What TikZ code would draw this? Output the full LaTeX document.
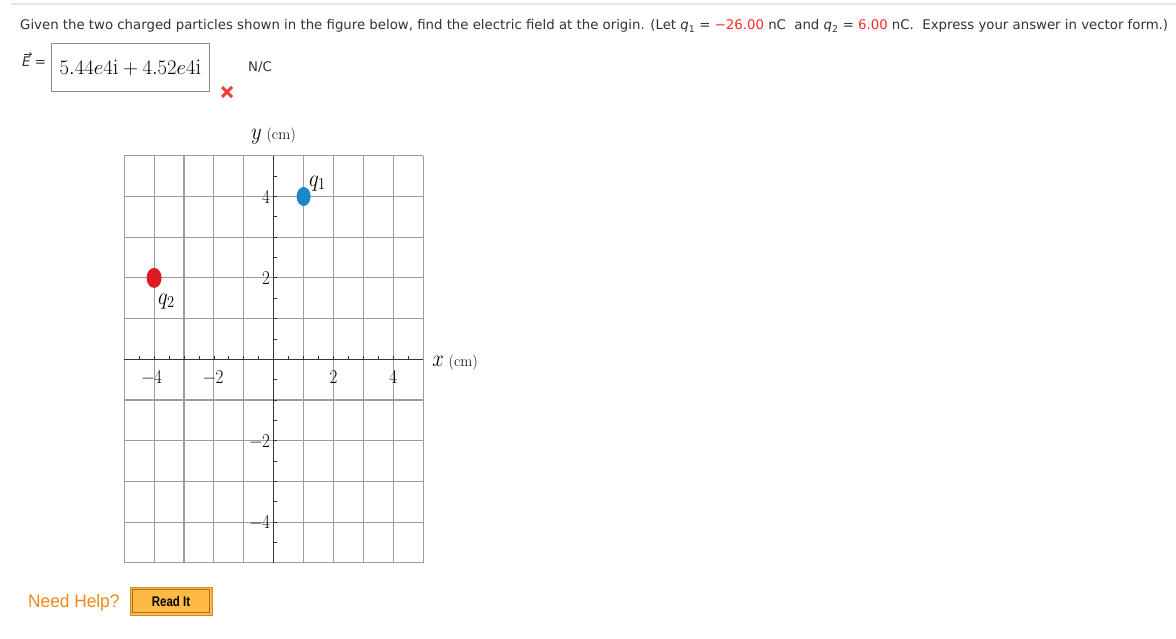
\documentclass[tikz,border=0pt]{standalone}
\usepackage{fontspec}
\usetikzlibrary{shapes.geometric,arrows.meta}
\newfontfamily\uisans{DejaVu Sans}
\newfontfamily\helpfont{Liberation Sans}
\definecolor{txt}{HTML}{333333}
\definecolor{redval}{HTML}{FF2A2A}
\definecolor{gridc}{HTML}{9C9C9C}
\definecolor{axisc}{HTML}{333333}
\definecolor{qonec}{HTML}{1A88C9}
\definecolor{qtwoc}{HTML}{DD1B24}
\definecolor{helpc}{HTML}{EE8A1A}
\definecolor{btnfill}{HTML}{FFBA45}
\definecolor{btnline}{HTML}{D68A2E}
\definecolor{xmarkc}{HTML}{E9423F}
\definecolor{boxline}{HTML}{8A8A8A}
\newcommand{\tallify}[1]{\scalebox{1}[1.15]{#1}}
\tikzset{
  uitext/.style={font=\uisans\fontsize{13.3}{15}\selectfont, text=txt, inner sep=0pt},
  gridline/.style={draw=gridc, line width=1.1pt},
  axisline/.style={draw=axisc, line width=1.4pt},
  tickline/.style={draw=axisc, line width=0.8pt},
  ticklabel/.style={font=\fontsize{17}{19}\selectfont, text=black, inner sep=0pt},
  charge/.style={ellipse, inner sep=0pt, minimum width=14pt, minimum height=19pt},
  chargelabel/.style={font=\fontsize{20}{22}\selectfont, inner sep=0pt, anchor=base west},
  axislabel/.style={font=\fontsize{15.5}{18}\selectfont, inner sep=0pt, anchor=base west},
}
\begin{document}
\begin{tikzpicture}[x=1pt,y=-1pt]
\useasboundingbox (0,0) rectangle (1176,639);
\fill[white] (0,0) rectangle (1176,639);
\draw[line width=2pt, color=black!10] (11,4) -- (1176,4);
\node[uitext, anchor=base west] (question) at (20,30) {Given the two charged particles shown in the figure below, find the electric field at the origin. (Let \textit{q}\textsubscript{1} = \textcolor{redval}{−26.00} nC\ \ and \textit{q}\textsubscript{2} = \textcolor{redval}{6.00} nC.\ \ Express your answer in vector form.)};
% answer line
\node[uitext, anchor=base west] (evec) at (22,67) {\textit{E} =};
\draw[txt, line width=0.7pt, -{Straight Barb[length=2pt,width=3.5pt]}] ([shift={(2,-3)}]evec.north west) -- ([shift={(10,-3)}]evec.north west);
\node[draw=boxline, line width=1pt, minimum width=158pt, minimum height=48pt, inner sep=0pt] (answer) at (130,68) {};
\node[font=\fontsize{22.4}{24}\selectfont, inner sep=0pt, anchor=base] (answertext) at (130.5,74.5) {$5.44e4\mathrm{i} + 4.52e4\mathrm{i}$};
\node[uitext, anchor=base west] (unit) at (248,72) {N/C};
\coordinate (xm) at (227,92);
\draw[xmarkc, line width=3pt] ([shift={(-5,-5)}]xm) -- ([shift={(5,5)}]xm) ([shift={(-5,5)}]xm) -- ([shift={(5,-5)}]xm);
% graph
\begin{scope}[shift={(273.7,359.3)}, x=29.9pt, y=40.7pt]
  \foreach \i in {-5,...,5} {
    \draw[gridline] (\i,-5) -- (\i,5);
    \draw[gridline] (-5,\i) -- (5,\i);
  }
  \draw[axisline] (-5,0) -- (5,0);
  \draw[axisline] (0,-5) -- (0,5);
  \foreach \t in {-4.5,-4,...,4.5} {
    \draw[tickline] (\t,0) -- ++(0,3.5pt);
    \draw[tickline] (0,\t) -- ++(3.5pt,0);
  }
  \foreach \v/\lab in {-4.07/{−4}, -2.02/{−2}, 2/{2}, 4/{4}}
    \node[ticklabel, anchor=base] at (\v,-0.6) {\tallify{\lab}};
  \foreach \v/\lab in {4/{4}, 2/{2}, -2/{−2}, -4/{−4}}
    \node[ticklabel, anchor=east, xshift=-3.5pt] at (0,\v) {\tallify{\lab}};
  \node[axislabel] (xlab) at (5.3,-0.17) {\tallify{\fontsize{20}{22}\selectfont$x$} (cm)};
  \node[axislabel] (ylab) at (-0.76,5.41) {\tallify{\fontsize{20}{22}\selectfont$y$} (cm)};
  \node[charge, fill=qonec] (q1) at (1,4) {};
  \node[charge, fill=qtwoc, minimum width=15pt, minimum height=20pt] (q2) at (-4,2) {};
  \node[chargelabel] (q1lab) at (1.18,4.25) {\tallify{$q_1$}};
  \node[chargelabel] (q2lab) at (-3.87,1.35) {\tallify{$q_2$}};
\end{scope}
% help
\node[font=\helpfont\fontsize{18.2}{20}\selectfont, text=helpc, anchor=base west, inner sep=0pt] (help) at (28,607) {\scalebox{0.95}[1]{Need Help?}};
\node[draw=btnline, fill=btnfill, line width=1pt, minimum width=82pt, minimum height=28pt, inner sep=0pt, font=\helpfont\bfseries\fontsize{14}{15}\selectfont] (readit) at (171,601) {\scalebox{0.82}[1]{Read It}};
\draw[color=btnline!80!black, line width=0.6pt] ([shift={(3,3)}]readit.north west) rectangle ([shift={(-3,-3)}]readit.south east);
\end{tikzpicture}
\end{document}
